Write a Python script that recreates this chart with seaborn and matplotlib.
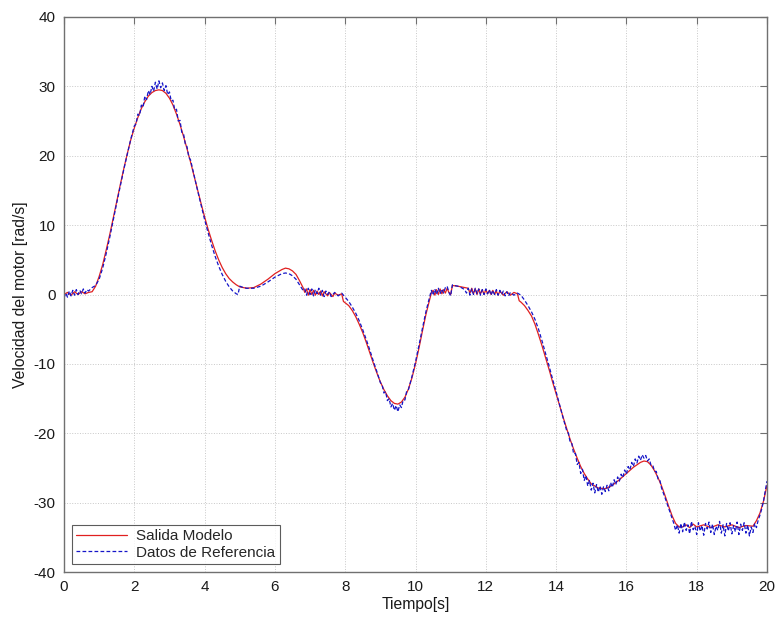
import matplotlib
matplotlib.use("Agg")
import matplotlib.pyplot as plt
import seaborn as sns
import pandas as pd

t_modelo = [
0.0,0.1,0.2,0.3,0.4,0.5,0.6,0.7,0.8,0.9,
1.0,1.1,1.2,1.3,1.4,1.5,1.6,1.7,1.8,1.9,
2.0,2.1,2.2,2.3,2.4,2.5,2.6,2.7,2.8,2.9,
3.0,3.1,3.2,3.3,3.4,3.5,3.6,3.7,3.8,3.9,
4.0,4.1,4.2,4.3,4.4,4.5,4.6,4.7,4.8,4.9,
5.0,5.2,5.4,5.6,5.8,6.0,6.2,6.3,6.4,6.5,
6.6,6.7,6.8,6.85,6.9,6.95,7.0,7.05,7.1,7.15,
7.2,7.25,7.3,7.35,7.4,7.5,7.55,7.65,7.7,7.8,
7.9,7.95,8.0,8.1,8.2,8.3,8.4,8.5,8.6,8.7,
8.8,8.9,9.0,9.1,9.2,9.3,9.4,9.5,9.6,9.7,
9.8,9.9,10.0,10.1,10.2,10.3,10.4,10.45,10.5,10.55,
10.6,10.65,10.7,10.75,10.8,10.85,10.9,10.95,11.0,11.05,
11.2,11.4,11.5,11.55,11.6,11.65,11.7,11.75,11.8,11.85,
11.9,11.95,12.0,12.05,12.1,12.15,12.2,12.25,12.3,12.35,
12.4,12.5,12.6,12.7,12.8,12.9,12.95,13.0,13.1,13.2,
13.3,13.4,13.5,13.6,13.7,13.8,13.9,14.0,14.1,14.2,
14.3,14.4,14.5,14.6,14.7,14.8,14.9,15.0,15.2,15.4,
15.6,15.8,16.0,16.2,16.4,16.5,16.6,16.7,16.8,16.9,
17.0,17.1,17.2,17.3,17.4,17.5,17.6,17.7,17.8,17.9,
18.0,18.2,18.4,18.6,18.8,19.0,19.2,19.4,19.6,19.7,
19.8,19.9,20.0]

v_modelo = [
0.0,0.3,-0.1,0.4,0.0,0.4,0.1,0.3,0.4,1.2,
2.6,4.3,6.4,8.6,11.0,13.4,15.8,18.1,20.3,22.3,
24.0,25.5,26.8,27.8,28.6,29.1,29.4,29.5,29.4,29.0,
28.3,27.3,26.0,24.5,22.8,21.0,19.1,17.1,15.1,13.1,
11.2,9.4,7.8,6.3,5.0,3.9,3.0,2.3,1.8,1.4,
1.1,0.9,1.0,1.5,2.2,3.0,3.6,3.8,3.7,3.4,
2.9,2.0,1.0,0.3,0.8,-0.1,0.7,0.0,0.6,-0.1,
0.5,0.0,0.5,-0.2,0.4,-0.2,0.3,-0.3,0.2,-0.1,
0.1,-1.0,-1.2,-1.6,-2.3,-3.2,-4.3,-5.5,-6.9,-8.4,
-9.9,-11.3,-12.6,-13.7,-14.6,-15.3,-15.7,-15.8,-15.5,-14.8,
-13.6,-12.0,-10.0,-7.7,-5.2,-2.8,-0.8,0.2,0.6,-0.1,
0.7,0.0,0.8,0.1,0.7,0.2,0.9,0.3,0.0,1.3,
1.2,1.0,0.9,0.2,0.9,0.1,0.8,0.0,0.8,0.1,
0.7,0.0,0.7,0.1,0.6,0.0,0.6,0.0,0.5,-0.1,
0.5,-0.1,0.4,-0.1,0.3,0.1,-0.9,-1.1,-1.6,-2.3,
-3.1,-4.3,-5.8,-7.4,-9.1,-10.8,-12.6,-14.3,-16.0,-17.7,
-19.3,-20.9,-22.3,-23.6,-24.8,-25.8,-26.6,-27.3,-27.9,-28.0,
-27.5,-26.7,-25.8,-24.9,-24.2,-24.0,-24.1,-24.6,-25.4,-26.4,
-27.6,-29.0,-30.5,-31.9,-33.0,-33.5,-33.5,-33.2,-33.6,-33.1,
-33.5,-33.2,-33.6,-33.2,-33.5,-33.2,-33.6,-33.3,-33.4,-32.6,
-31.5,-29.8,-27.5]

t_ref = [
0.0,0.05,0.1,0.15,0.2,0.25,0.3,0.35,0.4,0.45,
0.5,0.55,0.6,0.65,0.7,0.8,0.9,1.0,1.1,1.2,
1.3,1.4,1.5,1.6,1.7,1.8,1.9,2.0,2.05,2.1,
2.15,2.2,2.25,2.3,2.35,2.4,2.45,2.5,2.55,2.6,
2.65,2.7,2.75,2.8,2.85,2.9,2.95,3.0,3.05,3.1,
3.15,3.2,3.25,3.3,3.35,3.4,3.45,3.5,3.55,3.6,
3.7,3.8,3.9,4.0,4.1,4.2,4.3,4.4,4.5,4.6,
4.7,4.8,4.9,4.95,5.0,5.1,5.2,5.4,5.6,5.8,
6.0,6.2,6.3,6.4,6.5,6.6,6.7,6.8,6.85,6.9,
6.95,7.0,7.05,7.1,7.15,7.2,7.25,7.3,7.35,7.4,
7.45,7.5,7.55,7.6,7.7,7.8,7.9,8.0,8.1,8.2,
8.3,8.4,8.5,8.6,8.7,8.8,8.9,9.0,9.05,9.1,
9.15,9.2,9.25,9.3,9.35,9.4,9.45,9.5,9.55,9.6,
9.65,9.7,9.75,9.8,9.9,10.0,10.1,10.2,10.3,10.4,
10.45,10.5,10.55,10.6,10.65,10.7,10.75,10.8,10.85,10.9,
10.95,11.0,11.05,11.1,11.2,11.3,11.4,11.45,11.5,11.55,
11.6,11.65,11.7,11.75,11.8,11.85,11.9,11.95,12.0,12.05,
12.1,12.15,12.2,12.25,12.3,12.35,12.4,12.45,12.5,12.55,
12.6,12.65,12.7,12.8,12.9,13.0,13.1,13.2,13.3,13.4,
13.5,13.6,13.7,13.8,13.9,14.0,14.1,14.2,14.3,14.35,
14.4,14.45,14.5,14.55,14.6,14.65,14.7,14.75,14.8,14.85,
14.9,14.95,15.0,15.05,15.1,15.15,15.2,15.25,15.3,15.35,
15.4,15.45,15.5,15.55,15.6,15.65,15.7,15.75,15.8,15.85,
15.9,15.95,16.0,16.05,16.1,16.15,16.2,16.25,16.3,16.35,
16.4,16.45,16.5,16.55,16.6,16.65,16.7,16.75,16.8,16.85,
16.9,16.95,17.0,17.1,17.2,17.3,17.35,17.4,17.45,17.5,
17.55,17.6,17.65,17.7,17.75,17.8,17.85,17.9,17.95,18.0,
18.05,18.1,18.15,18.2,18.25,18.3,18.35,18.4,18.45,18.5,
18.55,18.6,18.65,18.7,18.75,18.8,18.85,18.9,18.95,19.0,
19.05,19.1,19.15,19.2,19.25,19.3,19.35,19.4,19.45,19.5,
19.55,19.6,19.65,19.7,19.75,19.8,19.85,19.9,19.95,20.0]

v_ref = [
-0.5,0.2,-0.4,0.5,-0.2,0.6,-0.1,0.7,0.0,0.6,
0.1,0.8,0.2,0.7,0.5,1.0,1.3,2.2,3.8,5.9,
8.2,10.7,13.2,15.6,18.0,20.2,22.4,24.3,24.6,26.0,
25.8,27.3,27.0,28.6,28.1,29.4,28.8,30.0,29.3,30.6,
29.6,30.8,29.8,30.5,29.4,30.1,28.8,29.2,27.9,28.0,
26.6,26.7,25.0,25.1,23.4,23.2,21.7,21.3,19.8,19.4,
17.2,15.0,12.9,10.8,8.9,7.1,5.5,4.1,2.9,1.9,
1.1,0.5,0.1,0.0,1.2,1.0,0.9,0.9,1.2,1.8,
2.5,3.0,3.1,3.0,2.7,2.2,1.4,0.6,0.8,-0.1,
0.9,0.0,0.8,-0.2,0.7,0.1,0.9,-0.1,0.6,-0.3,
0.5,0.0,0.4,-0.3,0.3,-0.2,0.2,-0.4,-1.0,-1.8,
-2.7,-3.8,-5.1,-6.5,-8.0,-9.6,-11.1,-12.7,-13.0,-14.2,
-14.0,-15.3,-15.0,-16.2,-15.7,-16.7,-16.0,-16.9,-15.9,-16.3,
-15.2,-15.2,-13.9,-13.7,-11.8,-9.7,-7.3,-4.8,-2.4,-0.4,
0.6,-0.1,0.8,0.0,0.9,0.1,0.8,0.2,1.0,1.2,
0.3,-0.2,1.4,1.3,1.2,1.0,0.7,0.2,0.9,-0.1,
0.8,0.0,0.9,0.1,0.8,-0.1,0.7,0.0,0.8,0.1,
0.7,-0.1,0.6,0.0,0.7,-0.1,0.6,0.0,0.5,-0.2,
0.4,-0.2,0.3,-0.1,0.2,-0.1,-0.8,-1.6,-2.5,-3.6,
-5.0,-6.7,-8.5,-10.3,-12.2,-14.0,-15.9,-17.8,-19.6,-20.0,
-21.3,-21.5,-23.0,-22.9,-24.5,-24.2,-25.8,-25.2,-26.8,-26.1,
-27.6,-26.8,-28.2,-27.2,-28.6,-27.4,-28.5,-27.6,-28.8,-27.7,
-28.4,-27.5,-28.3,-27.1,-27.8,-26.7,-27.4,-26.3,-26.9,-25.9,
-26.4,-25.3,-25.9,-24.8,-25.3,-24.2,-24.8,-23.7,-24.3,-23.3,
-23.9,-23.1,-23.6,-23.2,-24.0,-23.7,-24.6,-24.6,-25.5,-25.5,
-26.6,-26.7,-27.9,-29.3,-30.8,-32.3,-33.0,-34.0,-33.2,-34.4,
-33.0,-34.2,-32.8,-34.0,-33.2,-34.5,-32.7,-33.9,-33.4,-34.6,
-32.9,-34.1,-33.3,-34.7,-33.0,-33.8,-32.8,-34.3,-33.1,-34.6,
-33.4,-34.0,-32.7,-34.4,-33.2,-34.8,-33.0,-34.1,-32.9,-34.5,
-33.3,-34.2,-32.8,-34.6,-33.1,-34.0,-32.9,-34.4,-33.2,-34.8,
-33.5,-34.3,-33.0,-33.6,-32.5,-31.8,-30.9,-29.8,-28.3,-26.9]

x_ticks = [0, 2, 4, 6, 8, 10, 12, 14, 16, 18, 20]
y_ticks = [-40, -30, -20, -10, 0, 10, 20, 30, 40]

sns.set_style("white")
plt.rcParams['font.family'] = ['Liberation Sans', 'DejaVu Sans']
plt.rcParams['axes.unicode_minus'] = False

df_m = pd.DataFrame({"t": t_modelo, "v": v_modelo})
df_r = pd.DataFrame({"t": t_ref, "v": v_ref})

fig = plt.figure(figsize=(7.78, 6.17), dpi=100)
ax = fig.add_axes([64/778, 45/617, 703/778, 555/617])

sns.lineplot(data=df_m, x="t", y="v", ax=ax, color="#e02020", linewidth=0.9,
             estimator=None, sort=False, label="Salida Modelo")
sns.lineplot(data=df_r, x="t", y="v", ax=ax, color="#1515c8", linewidth=0.9,
             estimator=None, sort=False, label="Datos de Referencia",
             dashes=False)
ax.lines[1].set_dashes((3, 1.8))

ax.set_xlim(0, 20)
ax.set_ylim(-40, 40)
ax.set_xticks(x_ticks)
ax.set_yticks(y_ticks)
ax.grid(True, linestyle=':', color='#c8c8c8', linewidth=0.7)
ax.tick_params(direction='in', length=5, width=0.8, top=True, right=True,
               labelsize=11, color='#707070', labelcolor='#1a1a1a', pad=6)
for s in ax.spines.values():
    s.set_color('#707070')
    s.set_linewidth(1.0)

ax.set_xlabel("Tiempo[s]", fontsize=11.3, labelpad=2, color='#1a1a1a')
ax.set_ylabel("Velocidad del motor [rad/s]", fontsize=11.3, labelpad=4,
              color='#1a1a1a')

leg = ax.legend(loc="lower left", fontsize=11, frameon=True, fancybox=False,
                handlelength=3.3, borderpad=0.3, labelspacing=0.15,
                borderaxespad=0.5, handletextpad=0.6)
leg.get_frame().set_edgecolor('#333333')
leg.get_frame().set_linewidth(0.8)
leg.get_lines()[1].set_dashes((3, 1.8))

fig.savefig("out.png", dpi=100)
